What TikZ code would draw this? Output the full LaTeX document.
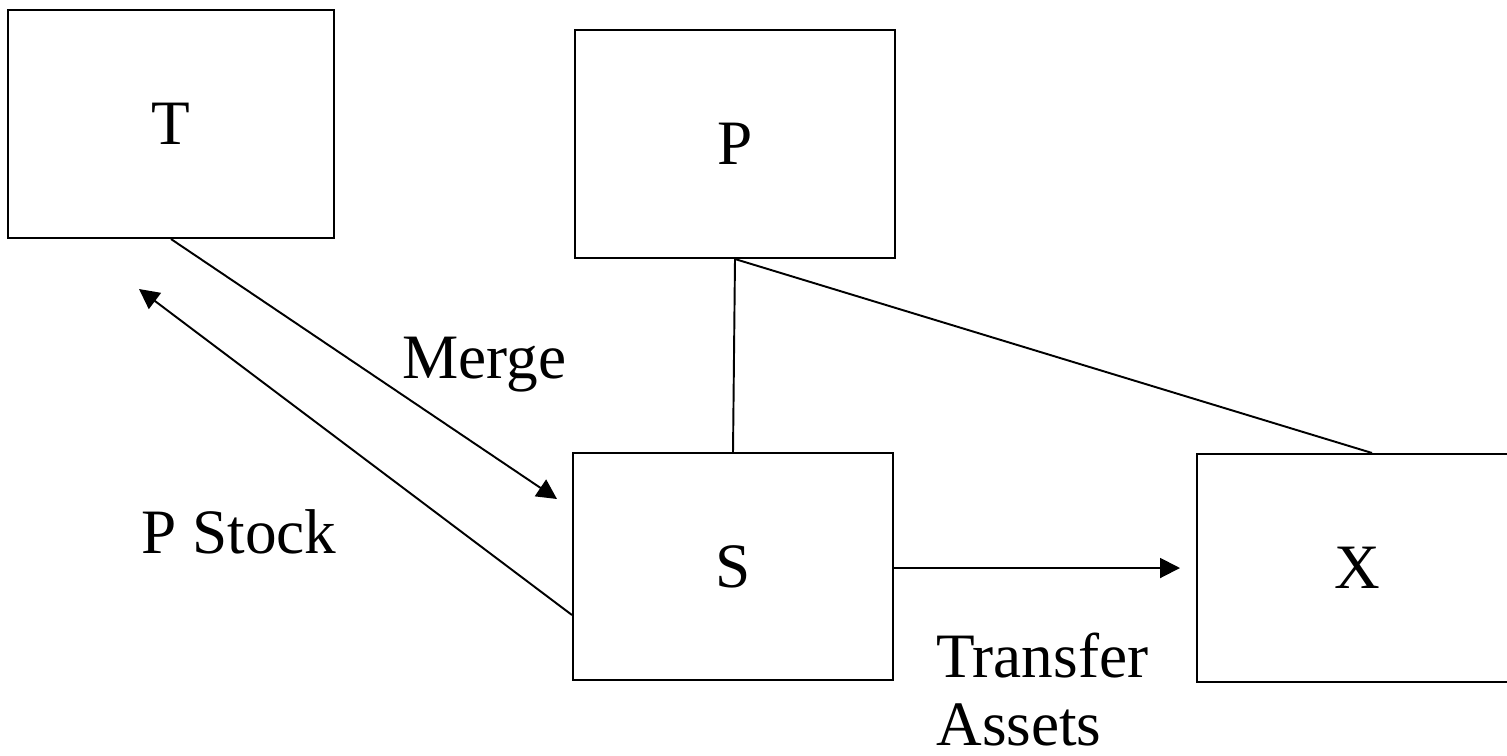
\documentclass[tikz,border=0pt]{standalone}
\usepackage{fontspec}
\setmainfont{Liberation Serif}
\usepackage{tikz}
\usetikzlibrary{arrows.meta, positioning}

\tikzset{
	box/.style={shape=rectangle, draw, line width=1.2pt, minimum width=6.4cm, minimum height=4.56cm, font=\fontsize{36pt}{43pt}\selectfont},
	lbl/.style={anchor=base west, inner sep=0pt, font=\fontsize{36pt}{43pt}\selectfont},
	link/.style={line width=1.1pt},
	flow/.style={line width=1.1pt, -{Triangle[length=0.4cm, width=0.4cm]}}
}

\begin{document}
\begin{tikzpicture}[x=0.02cm, y=-0.02cm]
	\useasboundingbox (0, 0) rectangle (1507, 755);
	% Boxes:
	\node[box, minimum width=6.52cm] (t) at (171, 124){T};
	\node[box] (p) at (735, 144){P};
	\node[box, minimum height=4.54cm] (s) at (733, 566.5){S};
	\node[box] (x) at (1357, 568){X};
	% Free ends of the arrows:
	\coordinate (mergetip) at (557, 499);
	\coordinate (stocktip) at (139, 289);
	\coordinate (xin) at (1180, 568);
	% Connectors:
	\draw[flow] (t.south) -- (mergetip);
	\draw[flow] (s.west |- 0, 615) -- (stocktip);
	\draw[link] (p.south) -- (s.north);
	\draw[link] (p.south) -- ([xshift=0.3cm]x.north);
	\draw[flow] (s.east |- xin) -- (xin);
	% Labels:
	\node[lbl] (merge) at (402, 378){Merge};
	\node[lbl] (stock) at (141, 553){P Stock};
	\node[lbl] (transfer) at (936, 677){Transfer};
	\node[lbl] (assets) at (936, 745){Assets};
\end{tikzpicture}
\end{document}
